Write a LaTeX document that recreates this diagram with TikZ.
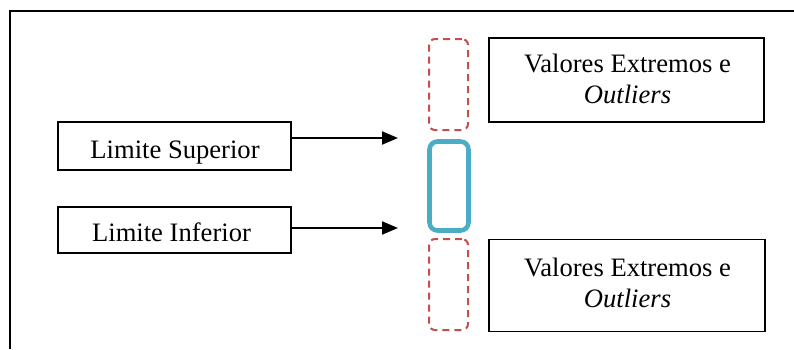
\documentclass[tikz,border=0pt]{standalone}
\usepackage{fontspec}
\setmainfont{Liberation Serif}
\usetikzlibrary{arrows.meta}
\definecolor{dashred}{HTML}{C0504D}
\definecolor{boxblue}{HTML}{4BACC6}
\tikzset{
  box/.style={draw=black, line width=0.75pt, inner sep=0pt},
  lbl/.style={font=\fontsize{13.3}{15.5}\selectfont, inner sep=0pt, anchor=base, align=center},
  redbox/.style={draw=dashred, line width=1pt, dash pattern=on 3.5pt off 2.5pt, rounded corners=3pt, inner sep=0pt},
  bluebox/.style={draw=boxblue, line width=2.3pt, rounded corners=4pt, inner sep=0pt},
  arr/.style={draw=black, line width=1pt, -{Triangle[length=8pt,width=6.5pt]}},
  frame/.style={draw=black, line width=1pt}
}
\begin{document}
\begin{tikzpicture}[x=0.5pt, y=-0.5pt]
\useasboundingbox (0,0) rectangle (794,349);
% outer frame (only top and left visible)
\coordinate (fbl) at (10,349);
\coordinate (ftl) at (10,11);
\coordinate (ftr) at (794,11);
\draw[frame] (fbl) -- (ftl) -- (ftr);

% left boxes
\node[box, minimum width=116.5pt, minimum height=24pt] (sup) at (174.5,146) {};
\node[lbl] (suptext) at (175,158) {Limite Superior};
\node[box, minimum width=116.5pt, minimum height=23pt] (inf) at (174.5,230) {};
\node[lbl] (inftext) at (171.5,241) {Limite Inferior};

% arrows
\coordinate (supend) at (398,138);
\coordinate (infend) at (398,228);
\draw[arr] (sup.east |- supend) -- (supend);
\draw[arr] (inf.east |- infend) -- (infend);

% red dashed boxes
\node[redbox, minimum width=19.5pt, minimum height=45.5pt] (rtop) at (448.5,84.5) {};
\node[redbox, minimum width=19.5pt, minimum height=45.5pt] (rbot) at (448.5,284.5) {};

% blue box
\node[bluebox, minimum width=19.5pt, minimum height=44.5pt] (blue) at (449,186) {};

% right boxes
\node[box, minimum width=137.5pt, minimum height=42pt] (vtop) at (626.5,80) {};
\node[lbl] (vtoptext) at (627.5,103) {Valores Extremos e\\\textit{Outliers}};
\node[box, minimum width=138pt, minimum height=46pt] (vbot) at (627,285.5) {};
\node[lbl] (vbottext) at (627.5,307) {Valores Extremos e\\\textit{Outliers}};
\end{tikzpicture}
\end{document}
